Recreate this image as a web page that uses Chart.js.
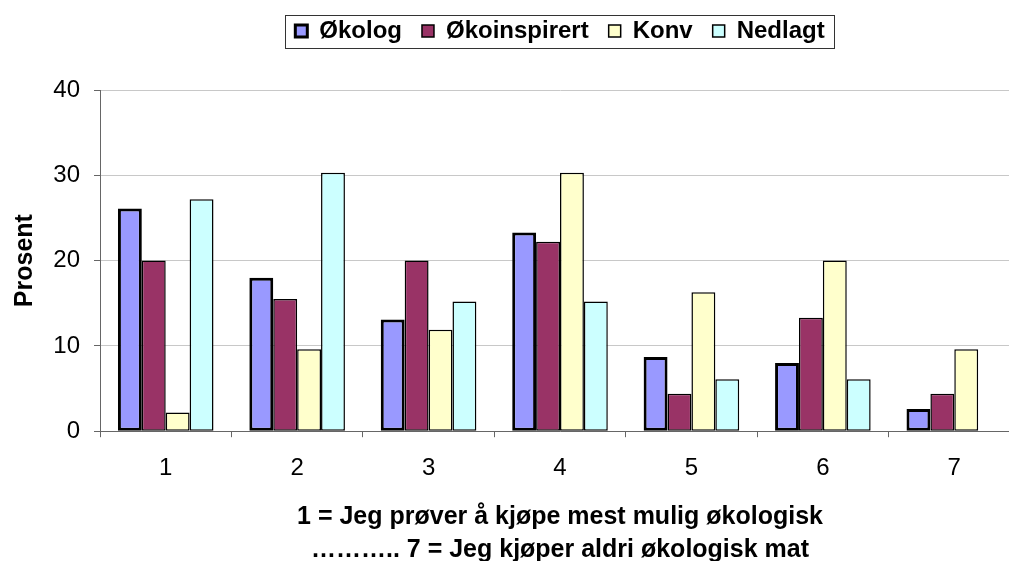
<!DOCTYPE html>
<html>
<head>
<meta charset="utf-8">
<script src="https://cdn.jsdelivr.net/npm/chart.js@4.4.1/dist/chart.umd.min.js"></script>
<style>
    html, body { margin: 0; padding: 0; background: #fff; overflow: hidden; }
    #wrap { position: relative; width: 1022px; height: 566px; }
</style>
</head>
<body>
<div id="wrap"><canvas id="chart"></canvas></div>
<script>
// Verdier lest av figuren (prosent)
const categories = ["1", "2", "3", "4", "5", "6", "7"];
const okolog = [26.1, 18.0, 13.1, 23.3, 8.7, 8.0, 2.6];
const okoinspirert = [20.0, 15.5, 20.0, 22.2, 4.4, 13.3, 4.4];
const konv = [2.2, 9.6, 11.9, 30.3, 16.3, 20.0, 9.6];
const nedlagt = [27.2, 30.3, 15.2, 15.2, 6.1, 6.1, null];
const yTicks = [0, 10, 20, 30, 40];
const xTitle = [
    "1 = Jeg prøver å kjøpe mest mulig økologisk",
    "……….. 7 = Jeg kjøper aldri økologisk mat"
];

Chart.defaults.font.family = "'Liberation Sans', Arial, sans-serif";
Chart.defaults.color = "#000";

// legenden sentreres over plottet og flyttes opp
const legendPlace = {
    id: "legendPlace",
    afterLayout(chart) {
        const lg = chart.legend;
        const area = chart.chartArea;
        lg.left = area.left;
        lg.right = area.right;
        lg.width = area.right - area.left;
        lg.top -= 37;
        lg.bottom -= 37;
    }
};

// ramme rundt legenden
const legendFrame = {
    id: "legendFrame",
    afterDraw(chart) {
        const boxes = chart.legend.legendHitBoxes;
        if (!boxes || !boxes.length) return;
        const left = Math.min(...boxes.map(b => b.left));
        const right = Math.max(...boxes.map(b => b.left + b.width));
        const top = Math.min(...boxes.map(b => b.top));
        const bottom = Math.max(...boxes.map(b => b.top + b.height));
        const ctx = chart.ctx;
        ctx.save();
        ctx.strokeStyle = "#333";
        ctx.lineWidth = 1;
        ctx.strokeRect(Math.round(left - 10) + 0.5, Math.round(top - 4) + 0.5,
            Math.round(right - left + 20), Math.round(bottom - top + 9));
        ctx.restore();
    }
};

const ctx = document.getElementById("chart").getContext("2d");
new Chart(ctx, {
    type: "bar",
    data: {
        labels: categories,
        datasets: [
            { label: "Økolog", data: okolog, backgroundColor: "#9999FF", borderColor: "#000", borderWidth: 3 },
            { label: "Økoinspirert", data: okoinspirert, backgroundColor: "#993366", borderColor: "#000", borderWidth: 1.5 },
            { label: "Konv", data: konv, backgroundColor: "#FFFFCC", borderColor: "#000", borderWidth: 1.5 },
            { label: "Nedlagt", data: nedlagt, backgroundColor: "#CCFFFF", borderColor: "#000", borderWidth: 1.5 }
        ]
    },
    options: {
        responsive: true,
        maintainAspectRatio: false,
        animation: false,
        datasets: {
            bar: { categoryPercentage: 4 / 5.5, barPercentage: 1, borderSkipped: false }
        },
        layout: { padding: { left: 10, right: 2, top: 36, bottom: 0 } },
        plugins: {
            legend: {
                position: "top",
                padding: 10,
                labels: {
                    font: { size: 24, weight: "bold" },
                    boxWidth: 12,
                    boxHeight: 12,
                    padding: 20,
                    color: "#000"
                }
            },
            tooltip: { enabled: false }
        },
        scales: {
            x: {
                grid: { drawOnChartArea: false, drawTicks: true, tickLength: 6, tickColor: "#666", offset: true },
                border: { color: "#666", width: 1 },
                ticks: { font: { size: 24 }, padding: 17, color: "#000" },
                title: {
                    display: true,
                    text: xTitle,
                    font: { size: 25, weight: "bold", lineHeight: 1.3 },
                    color: "#000",
                    padding: { top: 1, bottom: 0 }
                }
            },
            y: {
                min: 0,
                max: 40,
                afterBuildTicks: (scale) => { scale.ticks = yTicks.map(v => ({ value: v })); },
                afterFit: (scale) => { scale.width = 90; },
                grid: { color: "#c8c8c8", tickColor: "#666", tickLength: 6 },
                border: { color: "#666", width: 1 },
                ticks: { font: { size: 24 }, padding: 14, color: "#000" },
                title: {
                    display: true,
                    text: "Prosent",
                    font: { size: 25, weight: "bold" },
                    color: "#000",
                    padding: 0
                }
            }
        }
    },
    plugins: [legendPlace, legendFrame]
});
</script>
</body>
</html>
